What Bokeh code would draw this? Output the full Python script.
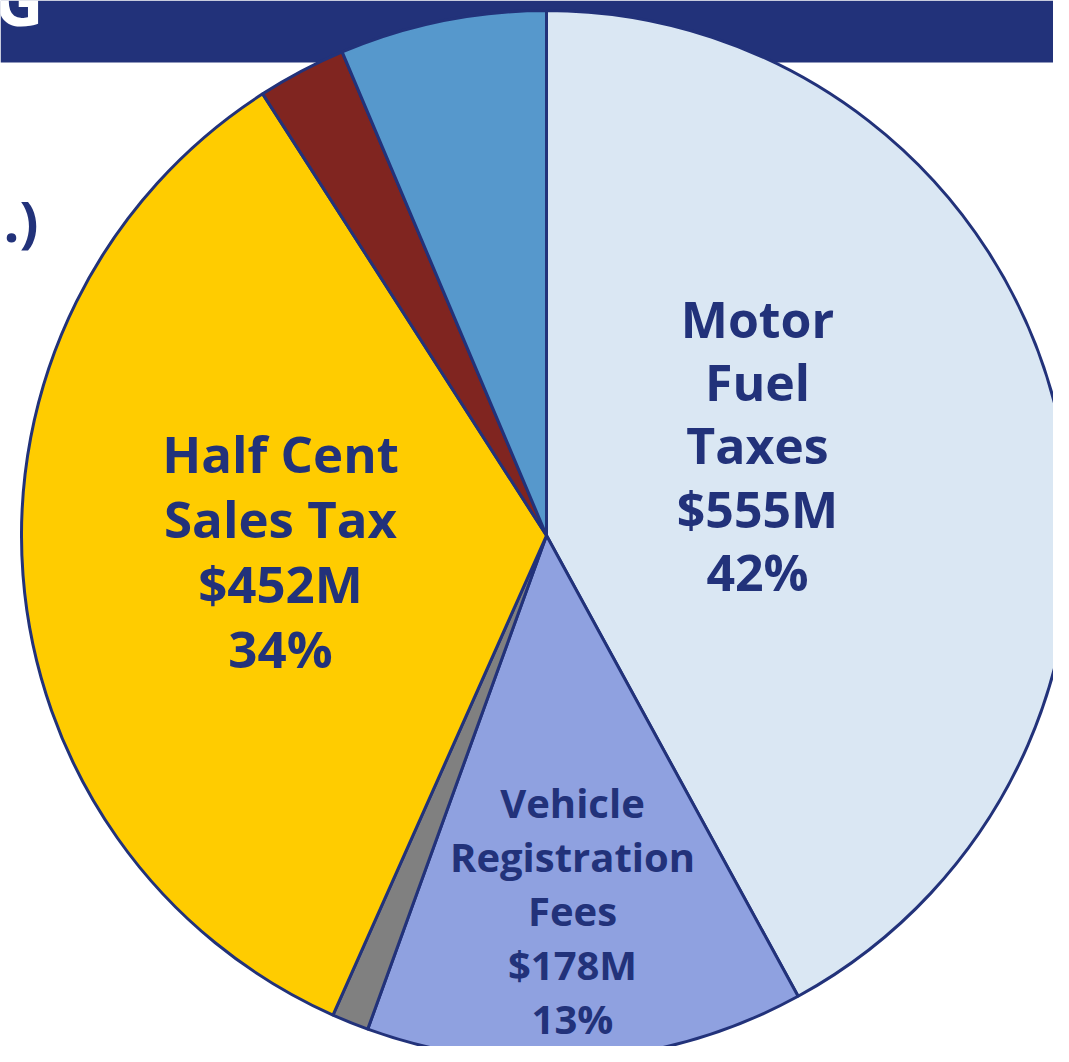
import numpy as np
from bokeh.plotting import figure
from bokeh.models import Range1d, ColumnDataSource
from bokeh.core.properties import value
from bokeh.embed import file_html
from bokeh.resources import INLINE

# Data (clockwise from 12 o'clock)
categories = ["Motor Fuel Taxes", "Vehicle Registration Fees", "Other A", "Half Cent Sales Tax", "Other B", "Other C"]
amounts = [555, 178, 15, 452, 36, 84]   # $M
colors = ["#DAE7F3", "#8FA1E0", "#808080", "#FFCC00", "#802520", "#5698CC"]
labels = ["Motor\nFuel\nTaxes\n$555M\n42%", "Vehicle\nRegistration\nFees\n$178M\n13%", "Half Cent\nSales Tax\n$452M\n34%"]

NAVY = "#22327A"
FW, FH = 1053, 1046

p = figure(frame_width=FW, frame_height=FH, output_backend="svg",
           toolbar_location=None, min_border=0,
           x_range=Range1d(0, FW), y_range=Range1d(0, FH))
p.axis.visible = False
p.grid.visible = False
p.outline_line_color = None
p.background_fill_color = "white"
p.border_fill_color = "white"

def sy(y):  # screen y -> data y
    return FH - y

# banner
p.quad(left=[0], right=[FW], bottom=[sy(62)], top=[sy(0)], fill_color=NAVY, line_color=None)
p.text(x=[43], y=[sy(-1)], text=["G"], text_color="white", text_font=value("Open Sans"),
       text_font_style="bold", text_font_size="68px", text_align="right", text_baseline="alphabetic")
p.text(x=[3], y=[sy(219)], text=[".)"], text_color=NAVY, text_font=value("Open Sans"),
       text_font_style="bold", text_font_size="56px", text_align="left", text_baseline="alphabetic")

# pie
vals = np.array(amounts, dtype=float)
frac = vals / vals.sum()
cum = np.concatenate([[0], np.cumsum(frac)])
start = np.pi / 2 - 2 * np.pi * cum[:-1]
end = np.pi / 2 - 2 * np.pi * cum[1:]
src = ColumnDataSource(dict(start=start, end=end, color=colors, cat=categories))
cx, cy, r = 546, sy(535), 525
p.wedge(x=cx, y=cy, radius=r, start_angle="start", end_angle="end", direction="clock",
        fill_color="color", line_color=NAVY, line_width=3, source=src)

# labels
p.text(x=[757], y=[sy(445)], text=[labels[0]], text_color=NAVY, text_font=value("Open Sans"),
       text_font_style="bold", text_font_size="50px", text_align="center", text_baseline="middle",
       text_line_height=0.93)
p.text(x=[280], y=[sy(550)], text=[labels[2]], text_color=NAVY, text_font=value("Open Sans"),
       text_font_style="bold", text_font_size="51px", text_align="center", text_baseline="middle",
       text_line_height=0.93)
p.text(x=[572], y=[sy(910)], text=[labels[1]], text_color=NAVY, text_font=value("Open Sans"),
       text_font_style="bold", text_font_size="40px", text_align="center", text_baseline="middle",
       text_line_height=0.98)

open("out.html", "w").write(file_html(p, INLINE))
